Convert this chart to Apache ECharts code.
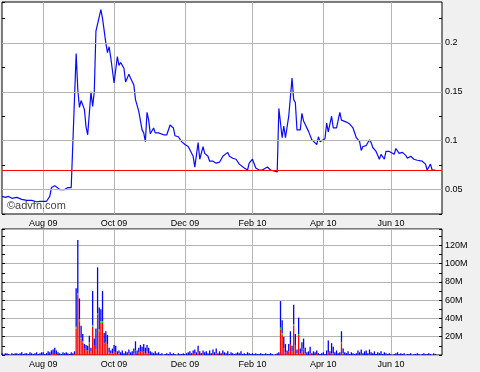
<!DOCTYPE html>
<html><head><meta charset="utf-8">
<script src="https://cdn.jsdelivr.net/npm/echarts@6/dist/echarts.min.js"></script>
<style>html,body{margin:0;padding:0;background:#f0f0f0}#c{width:480px;height:372px}</style>
</head><body><div id="c"></div>
<script>
// ---- data ----
const firstDay = [2009, 5, 29];   // 29 Jun 2009
const lastDay = [2010, 6, 14];    // 14 Jul 2010
const holidays = ['2009-12-25', '2009-12-28', '2010-01-01', '2010-04-02', '2010-04-05'];
const monthNames = ['Jan','Feb','Mar','Apr','May','Jun','Jul','Aug','Sep','Oct','Nov','Dec'];

// price: trading-day number and close
const priceDay = [0,2,4,6,9,10,12,15,16,18,21,23,25,27,29,30,32,33,35,36,38,40,41,42,43,
  45,46,47,48,49,50,51,52,53,54,55,56,57,58,60,61,63,64,65,66,68,70,71,72,74,75,77,78,80,81,82,83,85,86,87,88,89,90,91,92,93,95,96,
  98,100,102,104,105,107,109,111,113,114,116,117,118,119,120,121,122,123,124,125,126,128,129,130,132,134,135,137,138,140,142,144,147,149,150,152,154,156,158,161,163,165,167,
  168,170,171,172,174,176,177,178,179,181,182,183,184,186,188,189,191,192,193,196,197,198,200,201,203,204,205,206,209,211,213,214,215,217,218,219,221,223,224,225,227,229,230,232,233,235,236,238,239,241,243,245,246,248,250,252,255,257,258,260,261,263];
const priceVal = [0.043,0.042,0.043,0.041,0.042,0.041,0.040,0.039,0.038,0.039,0.0375,0.038,0.038,0.038,0.043,0.052,0.054,0.052,0.050,0.052,0.050,0.052,0.050,0.052,0.050,
  0.189,0.152,0.134,0.141,0.140,0.132,0.114,0.106,0.105,0.150,0.135,0.150,0.212,0.210,0.234,0.225,0.200,0.190,0.196,0.185,0.159,0.186,0.177,0.180,0.174,0.160,0.168,0.164,0.157,0.142,0.140,0.130,0.111,0.108,0.099,0.129,0.121,0.107,0.109,0.113,0.108,0.108,0.110,
  0.106,0.106,0.116,0.113,0.105,0.104,0.099,0.096,0.094,0.092,0.084,0.073,0.073,0.098,0.081,0.083,0.094,0.087,0.086,0.084,0.079,0.079,0.079,0.077,0.078,0.084,0.083,0.088,0.084,0.082,0.081,0.076,0.072,0.070,0.077,0.081,0.072,0.070,0.070,0.073,0.070,0.069,0.068,
  0.133,0.103,0.115,0.103,0.125,0.164,0.142,0.139,0.111,0.111,0.128,0.120,0.120,0.1095,0.101,0.102,0.096,0.104,0.099,0.102,0.118,0.109,0.125,0.113,0.113,0.115,0.129,0.121,0.119,0.117,0.113,0.112,0.103,0.099,0.090,0.094,0.095,0.101,0.098,0.093,0.089,0.081,0.086,0.081,0.089,0.089,0.091,0.086,0.092,0.087,0.088,0.085,0.082,0.084,0.081,0.080,0.079,0.076,0.070,0.076,0.070,0.070];
const lastPrice = 0.07;
const priceGridLines = [0.05, 0.1, 0.15, 0.2];

// volume (millions), one entry per trading day: blue top part
const volBlueM = [2,0,2,2,1,0,2,1,2,2,1,2,3,1,2,2,1,3,2,1,2,3,1,2,3,
  3,1,2,4,3,4,5,7,4,3,2,1,3,2,3,2,1,3,2,
  3,42,58,23,13,8,5,6,5,7,4,37,8,23,50,24,13,33,11,12,10,5,3,5,7,7,3,3,
  3,5,2,4,3,4,3,4,5,10,5,5,7,6,8,6,7,6,4,3,2,4,2,3,
  1,2,0,1,2,1,3,1,2,1,0,2,1,1,2,1,2,3,
  4,2,4,4,3,7,4,2,4,3,4,2,
  5,2,5,3,5,2,4,2,4,3,2,4,1,3,2,1,2,3,
  2,4,1,2,1,3,2,1,2,1,2,1,1,2,1,1,2,1,1,2,1,0,1,2,
  3,29,14,13,9,4,8,14,6,21,12,4,18,5,10,11,6,3,4,7,2,4,3,4,2,
  1,2,3,1,5,13,4,11,7,3,5,2,3,12,5,3,2,4,1,3,2,1,
  2,5,3,5,2,4,5,2,5,3,2,4,1,3,2,4,
  1,3,2,1,2,1,0,1,2,3,1,2,1,2,0,1,1,2,0,1,1,2,1,0,1,2,1,1,2,1,0,2,1];
const volRedDay = [30,31,32,33,44,45,46,47,48,49,50,51,52,53,54,55,56,57,58,59,60,61,62,63,64,65,66,67,68,69,70,71,
  77,80,81,83,84,85,86,87,88,89,116,117,119,122,128,130,134,
  169,170,171,172,173,174,175,176,177,178,179,180,181,182,183,184,187,191,198,200,201,206,207,218,223];
const volRedM = [1,1,1,1,1,29,66,37,18,14,7,5,5,13,4,31,10,6,44,26,35,35,13,14,12,3,2,2,4,3,1,2,
  2,2,5,3,4,3,4,2,4,2,1,2,3,1,1,2,1,
  28,22,7,3,1,4,12,4,32,11,2,22,2,4,6,2,2,1,3,2,2,13,2,1,1];
const volGreenDay = [45,46,47,48,49,53,55,58,59,60,61,169,170,177,180,183,206];
const volGreenM = [2,2,2,1,1,1,2,2,2,2,2,2,2,2,1,1,1];

// ---- build ----
const cats = [];
for (let t = Date.UTC(...firstDay); t <= Date.UTC(...lastDay); t += 86400000) {
  const d = new Date(t), wd = d.getUTCDay();
  if (wd === 0 || wd === 6) continue;
  const s = d.toISOString().slice(0, 10);
  if (holidays.includes(s)) continue;
  cats.push(s);
}
const isMonthStart = (i) => i > 0 && cats[i].slice(5,7) !== cats[i-1].slice(5,7) && (+cats[i].slice(5,7)) % 2 === 0;
const fmtDate = (s) => monthNames[+s.slice(5,7) - 1] + ' ' + s.slice(2,4);

const n = volBlueM.length;
const red = new Array(n).fill(0), green = new Array(n).fill(0);
volRedDay.forEach((d, i) => red[d] = volRedM[i]);
volGreenDay.forEach((d, i) => green[d] = volGreenM[i]);

const FONT = '"Liberation Sans", Arial, sans-serif';
const xAx = (gi) => ({
  type: 'category', gridIndex: gi, data: cats, boundaryGap: false,
  axisLine: {show: false}, axisTick: {show: false},
  axisLabel: {interval: (i) => isMonthStart(i), formatter: fmtDate, fontSize: 9, fontFamily: FONT, color: '#000', margin: 5},
  splitLine: {show: true, interval: (i) => isMonthStart(i), lineStyle: {color: '#b4b4b4', width: 1}}
});
const tick = {show: true, inside: true, length: 3, lineStyle: {color: '#000'}};

const chart = echarts.init(document.getElementById('c'));
chart.setOption({
  backgroundColor: '#f0f0f0',
  animation: false,
  grid: [
    {left: 2, top: 2, width: 440, height: 212, show: true, backgroundColor: '#fff', borderColor: '#000', borderWidth: 1},
    {left: 2, top: 229, width: 440, height: 126, show: true, backgroundColor: '#fff', borderColor: '#000', borderWidth: 1}
  ],
  xAxis: [xAx(0), xAx(1)],
  yAxis: [
    {type: 'value', gridIndex: 0, position: 'right', min: 0.025, max: 0.2418, interval: 0.025,
     axisLine: {show: false}, axisTick: tick, splitLine: {show: false},
     axisLabel: {fontSize: 9, fontFamily: FONT, color: '#000', margin: 3, showMaxLabel: false,
       formatter: (v) => Math.round(v * 1000) % 50 === 0 ? String(+v.toFixed(3)) : ''}},
    {type: 'value', gridIndex: 0, position: 'left', min: 0.025, max: 0.2418, interval: 0.025,
     axisLine: {show: false}, axisTick: tick, splitLine: {show: false}, axisLabel: {show: false}},
    {type: 'value', gridIndex: 1, position: 'right', min: 0, max: 138, interval: 20,
     axisLine: {show: false}, axisTick: tick, minorTick: {show: true, splitNumber: 2, length: 3, lineStyle: {color: '#000'}},
     splitLine: {show: true, lineStyle: {color: '#b4b4b4'}},
     axisLabel: {fontSize: 9, fontFamily: FONT, color: '#000', margin: 3, showMaxLabel: false,
       formatter: (v) => (v > 0 && v % 20 === 0) ? v + 'M' : ''}},
    {type: 'value', gridIndex: 1, position: 'left', min: 0, max: 138, interval: 20,
     axisLine: {show: false}, axisTick: tick, minorTick: {show: true, splitNumber: 2, length: 3, lineStyle: {color: '#000'}},
     splitLine: {show: false}, axisLabel: {show: false}}
  ],
  series: [
    {type: 'line', xAxisIndex: 0, yAxisIndex: 0, data: [], z: 1,
     markLine: {silent: true, symbol: 'none', label: {show: false}, animation: false,
       lineStyle: {color: '#b4b4b4', type: 'solid', width: 1},
       data: priceGridLines.map(v => ({yAxis: v}))}},
    {type: 'line', xAxisIndex: 0, yAxisIndex: 0, z: 3, showSymbol: false, symbol: 'none',
     lineStyle: {color: '#0a0aff', width: 1.2},
     data: priceDay.map((d, i) => [cats[d], priceVal[i]]),
     markLine: {silent: true, symbol: 'none', label: {show: false}, animation: false,
       lineStyle: {color: '#ff0000', type: 'solid', width: 1.2},
       data: [{yAxis: lastPrice}]}},
    {type: 'bar', xAxisIndex: 1, yAxisIndex: 2, stack: 'v', barWidth: 1.3, data: red, itemStyle: {color: '#ff0000'}},
    {type: 'bar', xAxisIndex: 1, yAxisIndex: 2, stack: 'v', barWidth: 1.3, data: green, itemStyle: {color: '#00c000'}},
    {type: 'bar', xAxisIndex: 1, yAxisIndex: 2, stack: 'v', barWidth: 1.3, data: volBlueM, itemStyle: {color: '#0000ff'}}
  ],
  graphic: [
    {type: 'text', left: 7, top: 200, z: 10, style: {text: '©advfn.com', font: '11px ' + FONT, fill: '#444'}}
  ]
});
</script>
</body></html>
